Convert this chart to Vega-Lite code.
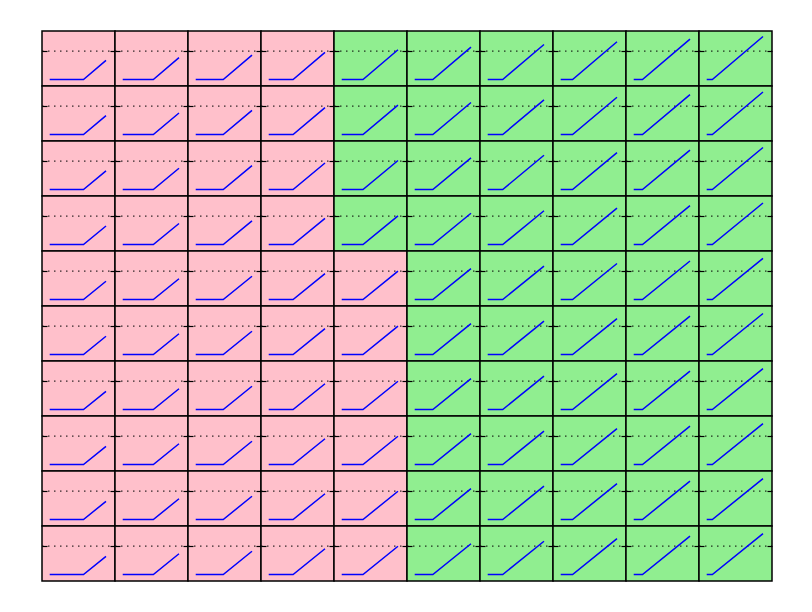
{
  "$schema": "https://vega.github.io/schema/vega-lite/v6.json",
  "padding": {"left": 41, "top": 30, "right": 0, "bottom": 0},
  "autosize": {"type": "pad"},
  "background": "white",
  "bounds": "flush",
  "config": {"view": {"stroke": null}},
  "data": {"values": [
    {"r":0,"c":0,"x":0,"y":0,"s":"below"},{"r":0,"c":0,"x":0.600,"y":0,"s":"below"},{"r":0,"c":0,"x":1,"y":0.337,"s":"below"},
    {"r":0,"c":1,"x":0,"y":0,"s":"below"},{"r":0,"c":1,"x":0.544,"y":0,"s":"below"},{"r":0,"c":1,"x":1,"y":0.384,"s":"below"},
    {"r":0,"c":2,"x":0,"y":0,"s":"below"},{"r":0,"c":2,"x":0.489,"y":0,"s":"below"},{"r":0,"c":2,"x":1,"y":0.430,"s":"below"},
    {"r":0,"c":3,"x":0,"y":0,"s":"below"},{"r":0,"c":3,"x":0.433,"y":0,"s":"below"},{"r":0,"c":3,"x":1,"y":0.477,"s":"below"},
    {"r":0,"c":4,"x":0,"y":0,"s":"above"},{"r":0,"c":4,"x":0.378,"y":0,"s":"above"},{"r":0,"c":4,"x":1,"y":0.524,"s":"above"},
    {"r":0,"c":5,"x":0,"y":0,"s":"above"},{"r":0,"c":5,"x":0.322,"y":0,"s":"above"},{"r":0,"c":5,"x":1,"y":0.571,"s":"above"},
    {"r":0,"c":6,"x":0,"y":0,"s":"above"},{"r":0,"c":6,"x":0.267,"y":0,"s":"above"},{"r":0,"c":6,"x":1,"y":0.617,"s":"above"},
    {"r":0,"c":7,"x":0,"y":0,"s":"above"},{"r":0,"c":7,"x":0.211,"y":0,"s":"above"},{"r":0,"c":7,"x":1,"y":0.664,"s":"above"},
    {"r":0,"c":8,"x":0,"y":0,"s":"above"},{"r":0,"c":8,"x":0.156,"y":0,"s":"above"},{"r":0,"c":8,"x":1,"y":0.711,"s":"above"},
    {"r":0,"c":9,"x":0,"y":0,"s":"above"},{"r":0,"c":9,"x":0.100,"y":0,"s":"above"},{"r":0,"c":9,"x":1,"y":0.758,"s":"above"},
    {"r":1,"c":0,"x":0,"y":0,"s":"below"},{"r":1,"c":0,"x":0.600,"y":0,"s":"below"},{"r":1,"c":0,"x":1,"y":0.333,"s":"below"},
    {"r":1,"c":1,"x":0,"y":0,"s":"below"},{"r":1,"c":1,"x":0.544,"y":0,"s":"below"},{"r":1,"c":1,"x":1,"y":0.379,"s":"below"},
    {"r":1,"c":2,"x":0,"y":0,"s":"below"},{"r":1,"c":2,"x":0.489,"y":0,"s":"below"},{"r":1,"c":2,"x":1,"y":0.425,"s":"below"},
    {"r":1,"c":3,"x":0,"y":0,"s":"below"},{"r":1,"c":3,"x":0.433,"y":0,"s":"below"},{"r":1,"c":3,"x":1,"y":0.472,"s":"below"},
    {"r":1,"c":4,"x":0,"y":0,"s":"above"},{"r":1,"c":4,"x":0.378,"y":0,"s":"above"},{"r":1,"c":4,"x":1,"y":0.517,"s":"above"},
    {"r":1,"c":5,"x":0,"y":0,"s":"above"},{"r":1,"c":5,"x":0.322,"y":0,"s":"above"},{"r":1,"c":5,"x":1,"y":0.564,"s":"above"},
    {"r":1,"c":6,"x":0,"y":0,"s":"above"},{"r":1,"c":6,"x":0.267,"y":0,"s":"above"},{"r":1,"c":6,"x":1,"y":0.610,"s":"above"},
    {"r":1,"c":7,"x":0,"y":0,"s":"above"},{"r":1,"c":7,"x":0.211,"y":0,"s":"above"},{"r":1,"c":7,"x":1,"y":0.656,"s":"above"},
    {"r":1,"c":8,"x":0,"y":0,"s":"above"},{"r":1,"c":8,"x":0.156,"y":0,"s":"above"},{"r":1,"c":8,"x":1,"y":0.702,"s":"above"},
    {"r":1,"c":9,"x":0,"y":0,"s":"above"},{"r":1,"c":9,"x":0.100,"y":0,"s":"above"},{"r":1,"c":9,"x":1,"y":0.749,"s":"above"},
    {"r":2,"c":0,"x":0,"y":0,"s":"below"},{"r":2,"c":0,"x":0.600,"y":0,"s":"below"},{"r":2,"c":0,"x":1,"y":0.329,"s":"below"},
    {"r":2,"c":1,"x":0,"y":0,"s":"below"},{"r":2,"c":1,"x":0.544,"y":0,"s":"below"},{"r":2,"c":1,"x":1,"y":0.375,"s":"below"},
    {"r":2,"c":2,"x":0,"y":0,"s":"below"},{"r":2,"c":2,"x":0.489,"y":0,"s":"below"},{"r":2,"c":2,"x":1,"y":0.420,"s":"below"},
    {"r":2,"c":3,"x":0,"y":0,"s":"below"},{"r":2,"c":3,"x":0.433,"y":0,"s":"below"},{"r":2,"c":3,"x":1,"y":0.466,"s":"below"},
    {"r":2,"c":4,"x":0,"y":0,"s":"above"},{"r":2,"c":4,"x":0.378,"y":0,"s":"above"},{"r":2,"c":4,"x":1,"y":0.511,"s":"above"},
    {"r":2,"c":5,"x":0,"y":0,"s":"above"},{"r":2,"c":5,"x":0.322,"y":0,"s":"above"},{"r":2,"c":5,"x":1,"y":0.557,"s":"above"},
    {"r":2,"c":6,"x":0,"y":0,"s":"above"},{"r":2,"c":6,"x":0.267,"y":0,"s":"above"},{"r":2,"c":6,"x":1,"y":0.603,"s":"above"},
    {"r":2,"c":7,"x":0,"y":0,"s":"above"},{"r":2,"c":7,"x":0.211,"y":0,"s":"above"},{"r":2,"c":7,"x":1,"y":0.649,"s":"above"},
    {"r":2,"c":8,"x":0,"y":0,"s":"above"},{"r":2,"c":8,"x":0.156,"y":0,"s":"above"},{"r":2,"c":8,"x":1,"y":0.694,"s":"above"},
    {"r":2,"c":9,"x":0,"y":0,"s":"above"},{"r":2,"c":9,"x":0.100,"y":0,"s":"above"},{"r":2,"c":9,"x":1,"y":0.740,"s":"above"},
    {"r":3,"c":0,"x":0,"y":0,"s":"below"},{"r":3,"c":0,"x":0.600,"y":0,"s":"below"},{"r":3,"c":0,"x":1,"y":0.325,"s":"below"},
    {"r":3,"c":1,"x":0,"y":0,"s":"below"},{"r":3,"c":1,"x":0.544,"y":0,"s":"below"},{"r":3,"c":1,"x":1,"y":0.370,"s":"below"},
    {"r":3,"c":2,"x":0,"y":0,"s":"below"},{"r":3,"c":2,"x":0.489,"y":0,"s":"below"},{"r":3,"c":2,"x":1,"y":0.415,"s":"below"},
    {"r":3,"c":3,"x":0,"y":0,"s":"below"},{"r":3,"c":3,"x":0.433,"y":0,"s":"below"},{"r":3,"c":3,"x":1,"y":0.460,"s":"below"},
    {"r":3,"c":4,"x":0,"y":0,"s":"above"},{"r":3,"c":4,"x":0.378,"y":0,"s":"above"},{"r":3,"c":4,"x":1,"y":0.505,"s":"above"},
    {"r":3,"c":5,"x":0,"y":0,"s":"above"},{"r":3,"c":5,"x":0.322,"y":0,"s":"above"},{"r":3,"c":5,"x":1,"y":0.551,"s":"above"},
    {"r":3,"c":6,"x":0,"y":0,"s":"above"},{"r":3,"c":6,"x":0.267,"y":0,"s":"above"},{"r":3,"c":6,"x":1,"y":0.595,"s":"above"},
    {"r":3,"c":7,"x":0,"y":0,"s":"above"},{"r":3,"c":7,"x":0.211,"y":0,"s":"above"},{"r":3,"c":7,"x":1,"y":0.641,"s":"above"},
    {"r":3,"c":8,"x":0,"y":0,"s":"above"},{"r":3,"c":8,"x":0.156,"y":0,"s":"above"},{"r":3,"c":8,"x":1,"y":0.685,"s":"above"},
    {"r":3,"c":9,"x":0,"y":0,"s":"above"},{"r":3,"c":9,"x":0.100,"y":0,"s":"above"},{"r":3,"c":9,"x":1,"y":0.731,"s":"above"},
    {"r":4,"c":0,"x":0,"y":0,"s":"below"},{"r":4,"c":0,"x":0.600,"y":0,"s":"below"},{"r":4,"c":0,"x":1,"y":0.321,"s":"below"},
    {"r":4,"c":1,"x":0,"y":0,"s":"below"},{"r":4,"c":1,"x":0.544,"y":0,"s":"below"},{"r":4,"c":1,"x":1,"y":0.366,"s":"below"},
    {"r":4,"c":2,"x":0,"y":0,"s":"below"},{"r":4,"c":2,"x":0.489,"y":0,"s":"below"},{"r":4,"c":2,"x":1,"y":0.410,"s":"below"},
    {"r":4,"c":3,"x":0,"y":0,"s":"below"},{"r":4,"c":3,"x":0.433,"y":0,"s":"below"},{"r":4,"c":3,"x":1,"y":0.455,"s":"below"},
    {"r":4,"c":4,"x":0,"y":0,"s":"below"},{"r":4,"c":4,"x":0.378,"y":0,"s":"below"},{"r":4,"c":4,"x":1,"y":0.499,"s":"below"},
    {"r":4,"c":5,"x":0,"y":0,"s":"above"},{"r":4,"c":5,"x":0.322,"y":0,"s":"above"},{"r":4,"c":5,"x":1,"y":0.544,"s":"above"},
    {"r":4,"c":6,"x":0,"y":0,"s":"above"},{"r":4,"c":6,"x":0.267,"y":0,"s":"above"},{"r":4,"c":6,"x":1,"y":0.589,"s":"above"},
    {"r":4,"c":7,"x":0,"y":0,"s":"above"},{"r":4,"c":7,"x":0.211,"y":0,"s":"above"},{"r":4,"c":7,"x":1,"y":0.634,"s":"above"},
    {"r":4,"c":8,"x":0,"y":0,"s":"above"},{"r":4,"c":8,"x":0.156,"y":0,"s":"above"},{"r":4,"c":8,"x":1,"y":0.678,"s":"above"},
    {"r":4,"c":9,"x":0,"y":0,"s":"above"},{"r":4,"c":9,"x":0.100,"y":0,"s":"above"},{"r":4,"c":9,"x":1,"y":0.723,"s":"above"},
    {"r":5,"c":0,"x":0,"y":0,"s":"below"},{"r":5,"c":0,"x":0.600,"y":0,"s":"below"},{"r":5,"c":0,"x":1,"y":0.321,"s":"below"},
    {"r":5,"c":1,"x":0,"y":0,"s":"below"},{"r":5,"c":1,"x":0.544,"y":0,"s":"below"},{"r":5,"c":1,"x":1,"y":0.366,"s":"below"},
    {"r":5,"c":2,"x":0,"y":0,"s":"below"},{"r":5,"c":2,"x":0.489,"y":0,"s":"below"},{"r":5,"c":2,"x":1,"y":0.410,"s":"below"},
    {"r":5,"c":3,"x":0,"y":0,"s":"below"},{"r":5,"c":3,"x":0.433,"y":0,"s":"below"},{"r":5,"c":3,"x":1,"y":0.455,"s":"below"},
    {"r":5,"c":4,"x":0,"y":0,"s":"below"},{"r":5,"c":4,"x":0.378,"y":0,"s":"below"},{"r":5,"c":4,"x":1,"y":0.499,"s":"below"},
    {"r":5,"c":5,"x":0,"y":0,"s":"above"},{"r":5,"c":5,"x":0.322,"y":0,"s":"above"},{"r":5,"c":5,"x":1,"y":0.544,"s":"above"},
    {"r":5,"c":6,"x":0,"y":0,"s":"above"},{"r":5,"c":6,"x":0.267,"y":0,"s":"above"},{"r":5,"c":6,"x":1,"y":0.588,"s":"above"},
    {"r":5,"c":7,"x":0,"y":0,"s":"above"},{"r":5,"c":7,"x":0.211,"y":0,"s":"above"},{"r":5,"c":7,"x":1,"y":0.633,"s":"above"},
    {"r":5,"c":8,"x":0,"y":0,"s":"above"},{"r":5,"c":8,"x":0.156,"y":0,"s":"above"},{"r":5,"c":8,"x":1,"y":0.677,"s":"above"},
    {"r":5,"c":9,"x":0,"y":0,"s":"above"},{"r":5,"c":9,"x":0.100,"y":0,"s":"above"},{"r":5,"c":9,"x":1,"y":0.722,"s":"above"},
    {"r":6,"c":0,"x":0,"y":0,"s":"below"},{"r":6,"c":0,"x":0.600,"y":0,"s":"below"},{"r":6,"c":0,"x":1,"y":0.320,"s":"below"},
    {"r":6,"c":1,"x":0,"y":0,"s":"below"},{"r":6,"c":1,"x":0.544,"y":0,"s":"below"},{"r":6,"c":1,"x":1,"y":0.365,"s":"below"},
    {"r":6,"c":2,"x":0,"y":0,"s":"below"},{"r":6,"c":2,"x":0.489,"y":0,"s":"below"},{"r":6,"c":2,"x":1,"y":0.410,"s":"below"},
    {"r":6,"c":3,"x":0,"y":0,"s":"below"},{"r":6,"c":3,"x":0.433,"y":0,"s":"below"},{"r":6,"c":3,"x":1,"y":0.454,"s":"below"},
    {"r":6,"c":4,"x":0,"y":0,"s":"below"},{"r":6,"c":4,"x":0.378,"y":0,"s":"below"},{"r":6,"c":4,"x":1,"y":0.498,"s":"below"},
    {"r":6,"c":5,"x":0,"y":0,"s":"above"},{"r":6,"c":5,"x":0.322,"y":0,"s":"above"},{"r":6,"c":5,"x":1,"y":0.543,"s":"above"},
    {"r":6,"c":6,"x":0,"y":0,"s":"above"},{"r":6,"c":6,"x":0.267,"y":0,"s":"above"},{"r":6,"c":6,"x":1,"y":0.588,"s":"above"},
    {"r":6,"c":7,"x":0,"y":0,"s":"above"},{"r":6,"c":7,"x":0.211,"y":0,"s":"above"},{"r":6,"c":7,"x":1,"y":0.632,"s":"above"},
    {"r":6,"c":8,"x":0,"y":0,"s":"above"},{"r":6,"c":8,"x":0.156,"y":0,"s":"above"},{"r":6,"c":8,"x":1,"y":0.677,"s":"above"},
    {"r":6,"c":9,"x":0,"y":0,"s":"above"},{"r":6,"c":9,"x":0.100,"y":0,"s":"above"},{"r":6,"c":9,"x":1,"y":0.721,"s":"above"},
    {"r":7,"c":0,"x":0,"y":0,"s":"below"},{"r":7,"c":0,"x":0.600,"y":0,"s":"below"},{"r":7,"c":0,"x":1,"y":0.320,"s":"below"},
    {"r":7,"c":1,"x":0,"y":0,"s":"below"},{"r":7,"c":1,"x":0.544,"y":0,"s":"below"},{"r":7,"c":1,"x":1,"y":0.365,"s":"below"},
    {"r":7,"c":2,"x":0,"y":0,"s":"below"},{"r":7,"c":2,"x":0.489,"y":0,"s":"below"},{"r":7,"c":2,"x":1,"y":0.409,"s":"below"},
    {"r":7,"c":3,"x":0,"y":0,"s":"below"},{"r":7,"c":3,"x":0.433,"y":0,"s":"below"},{"r":7,"c":3,"x":1,"y":0.454,"s":"below"},
    {"r":7,"c":4,"x":0,"y":0,"s":"below"},{"r":7,"c":4,"x":0.378,"y":0,"s":"below"},{"r":7,"c":4,"x":1,"y":0.498,"s":"below"},
    {"r":7,"c":5,"x":0,"y":0,"s":"above"},{"r":7,"c":5,"x":0.322,"y":0,"s":"above"},{"r":7,"c":5,"x":1,"y":0.543,"s":"above"},
    {"r":7,"c":6,"x":0,"y":0,"s":"above"},{"r":7,"c":6,"x":0.267,"y":0,"s":"above"},{"r":7,"c":6,"x":1,"y":0.587,"s":"above"},
    {"r":7,"c":7,"x":0,"y":0,"s":"above"},{"r":7,"c":7,"x":0.211,"y":0,"s":"above"},{"r":7,"c":7,"x":1,"y":0.632,"s":"above"},
    {"r":7,"c":8,"x":0,"y":0,"s":"above"},{"r":7,"c":8,"x":0.156,"y":0,"s":"above"},{"r":7,"c":8,"x":1,"y":0.676,"s":"above"},
    {"r":7,"c":9,"x":0,"y":0,"s":"above"},{"r":7,"c":9,"x":0.100,"y":0,"s":"above"},{"r":7,"c":9,"x":1,"y":0.721,"s":"above"},
    {"r":8,"c":0,"x":0,"y":0,"s":"below"},{"r":8,"c":0,"x":0.600,"y":0,"s":"below"},{"r":8,"c":0,"x":1,"y":0.320,"s":"below"},
    {"r":8,"c":1,"x":0,"y":0,"s":"below"},{"r":8,"c":1,"x":0.544,"y":0,"s":"below"},{"r":8,"c":1,"x":1,"y":0.365,"s":"below"},
    {"r":8,"c":2,"x":0,"y":0,"s":"below"},{"r":8,"c":2,"x":0.489,"y":0,"s":"below"},{"r":8,"c":2,"x":1,"y":0.409,"s":"below"},
    {"r":8,"c":3,"x":0,"y":0,"s":"below"},{"r":8,"c":3,"x":0.433,"y":0,"s":"below"},{"r":8,"c":3,"x":1,"y":0.454,"s":"below"},
    {"r":8,"c":4,"x":0,"y":0,"s":"below"},{"r":8,"c":4,"x":0.378,"y":0,"s":"below"},{"r":8,"c":4,"x":1,"y":0.498,"s":"below"},
    {"r":8,"c":5,"x":0,"y":0,"s":"above"},{"r":8,"c":5,"x":0.322,"y":0,"s":"above"},{"r":8,"c":5,"x":1,"y":0.543,"s":"above"},
    {"r":8,"c":6,"x":0,"y":0,"s":"above"},{"r":8,"c":6,"x":0.267,"y":0,"s":"above"},{"r":8,"c":6,"x":1,"y":0.587,"s":"above"},
    {"r":8,"c":7,"x":0,"y":0,"s":"above"},{"r":8,"c":7,"x":0.211,"y":0,"s":"above"},{"r":8,"c":7,"x":1,"y":0.631,"s":"above"},
    {"r":8,"c":8,"x":0,"y":0,"s":"above"},{"r":8,"c":8,"x":0.156,"y":0,"s":"above"},{"r":8,"c":8,"x":1,"y":0.676,"s":"above"},
    {"r":8,"c":9,"x":0,"y":0,"s":"above"},{"r":8,"c":9,"x":0.100,"y":0,"s":"above"},{"r":8,"c":9,"x":1,"y":0.720,"s":"above"},
    {"r":9,"c":0,"x":0,"y":0,"s":"below"},{"r":9,"c":0,"x":0.600,"y":0,"s":"below"},{"r":9,"c":0,"x":1,"y":0.320,"s":"below"},
    {"r":9,"c":1,"x":0,"y":0,"s":"below"},{"r":9,"c":1,"x":0.544,"y":0,"s":"below"},{"r":9,"c":1,"x":1,"y":0.365,"s":"below"},
    {"r":9,"c":2,"x":0,"y":0,"s":"below"},{"r":9,"c":2,"x":0.489,"y":0,"s":"below"},{"r":9,"c":2,"x":1,"y":0.409,"s":"below"},
    {"r":9,"c":3,"x":0,"y":0,"s":"below"},{"r":9,"c":3,"x":0.433,"y":0,"s":"below"},{"r":9,"c":3,"x":1,"y":0.454,"s":"below"},
    {"r":9,"c":4,"x":0,"y":0,"s":"below"},{"r":9,"c":4,"x":0.378,"y":0,"s":"below"},{"r":9,"c":4,"x":1,"y":0.498,"s":"below"},
    {"r":9,"c":5,"x":0,"y":0,"s":"above"},{"r":9,"c":5,"x":0.322,"y":0,"s":"above"},{"r":9,"c":5,"x":1,"y":0.542,"s":"above"},
    {"r":9,"c":6,"x":0,"y":0,"s":"above"},{"r":9,"c":6,"x":0.267,"y":0,"s":"above"},{"r":9,"c":6,"x":1,"y":0.586,"s":"above"},
    {"r":9,"c":7,"x":0,"y":0,"s":"above"},{"r":9,"c":7,"x":0.211,"y":0,"s":"above"},{"r":9,"c":7,"x":1,"y":0.631,"s":"above"},
    {"r":9,"c":8,"x":0,"y":0,"s":"above"},{"r":9,"c":8,"x":0.156,"y":0,"s":"above"},{"r":9,"c":8,"x":1,"y":0.675,"s":"above"},
    {"r":9,"c":9,"x":0,"y":0,"s":"above"},{"r":9,"c":9,"x":0.100,"y":0,"s":"above"},{"r":9,"c":9,"x":1,"y":0.720,"s":"above"}
  ]},
  "facet": {
    "row": {"field": "r", "type": "ordinal", "header": null},
    "column": {"field": "c", "type": "ordinal", "header": null}
  },
  "spacing": 0,
  "resolve": {"axis": {"y": "independent"}},
  "spec": {
    "width": 73,
    "height": 55,
    "layer": [
      {
        "transform": [{"filter": "datum.x === 0"}],
        "mark": {"type": "rect", "stroke": "black", "strokeWidth": 1.5},
        "encoding": {
          "x": {"datum": -0.137, "type": "quantitative", "scale": {"domain": [-0.137, 1.16], "nice": false, "zero": false}, "axis": null},
          "x2": {"datum": 1.16},
          "y": {"datum": -0.1144, "type": "quantitative", "scale": {"domain": [-0.1144, 0.854], "nice": false, "zero": false}, "axis": null},
          "y2": {"datum": 0.854},
          "fill": {"field": "s", "type": "nominal", "scale": {"domain": ["below", "above"], "range": ["#ffc0cb", "#90ee90"]}, "legend": null}
        }
      },
      {
        "transform": [{"filter": "datum.x === 0"}],
        "mark": {"type": "rule", "stroke": "black", "strokeWidth": 1, "strokeDash": [1.5, 4.5]},
        "encoding": {
          "x": {"datum": -0.137, "type": "quantitative"},
          "x2": {"datum": 1.16},
          "y": {"datum": 0.5, "type": "quantitative", "axis": {"orient": "left", "values": [0.5], "tickSize": -5, "tickColor": "black", "tickWidth": 1.2, "labels": false, "domain": false, "grid": false, "title": null, "zindex": 1}}
        }
      },
      {
        "transform": [{"filter": "datum.x === 0"}],
        "mark": {"type": "rule", "opacity": 0},
        "encoding": {
          "x": {"datum": -0.137, "type": "quantitative"},
          "x2": {"datum": 1.16},
          "y": {"datum": 0.5, "type": "quantitative", "axis": {"orient": "right", "values": [0.5], "tickSize": -5, "tickColor": "black", "tickWidth": 1.2, "labels": false, "domain": false, "grid": false, "title": null, "zindex": 1}}
        }
      },
      {
        "mark": {"type": "line", "stroke": "#0000ff", "strokeWidth": 1.5},
        "encoding": {
          "x": {"field": "x", "type": "quantitative"},
          "y": {"field": "y", "type": "quantitative", "axis": null},
          "order": {"field": "x", "type": "quantitative"}
        }
      }
    ],
    "resolve": {"axis": {"y": "independent"}}
  }
}
